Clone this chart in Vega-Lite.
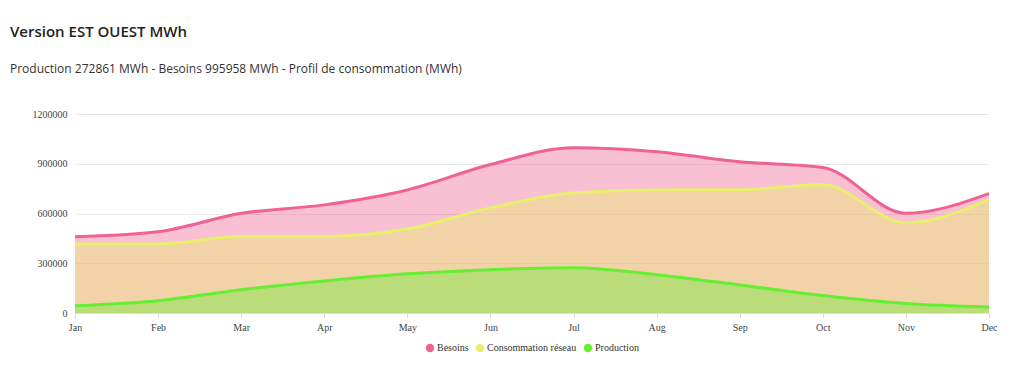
{
  "$schema": "https://vega.github.io/schema/vega-lite/v6.json",
  "autosize": {"type": "none"},
  "width": 914,
  "height": 199,
  "padding": {"left": 75, "top": 114, "right": 35, "bottom": 65},
  "background": "white",
  "title": {
    "text": "Version EST OUEST MWh",
    "subtitle": "Production 272861 MWh - Besoins 995958 MWh - Profil de consommation (MWh)",
    "anchor": "start",
    "frame": "group",
    "dx": -65,
    "offset": 34,
    "font": "Open Sans",
    "fontSize": 15,
    "fontWeight": 600,
    "color": "#222222",
    "subtitleFont": "Open Sans",
    "subtitleFontSize": 12,
    "subtitleColor": "#333333",
    "subtitlePadding": 24
  },
  "data": {
    "values": [
      {"month": "Jan", "serie": "Besoins", "value": 460000},
      {"month": "Feb", "serie": "Besoins", "value": 490000},
      {"month": "Mar", "serie": "Besoins", "value": 601000},
      {"month": "Apr", "serie": "Besoins", "value": 652000},
      {"month": "May", "serie": "Besoins", "value": 742000},
      {"month": "Jun", "serie": "Besoins", "value": 895000},
      {"month": "Jul", "serie": "Besoins", "value": 995958},
      {"month": "Aug", "serie": "Besoins", "value": 973000},
      {"month": "Sep", "serie": "Besoins", "value": 912000},
      {"month": "Oct", "serie": "Besoins", "value": 878000},
      {"month": "Nov", "serie": "Besoins", "value": 601000},
      {"month": "Dec", "serie": "Besoins", "value": 720000},
      {"month": "Jan", "serie": "Consommation réseau", "value": 416000},
      {"month": "Feb", "serie": "Consommation réseau", "value": 416000},
      {"month": "Mar", "serie": "Consommation réseau", "value": 461000},
      {"month": "Apr", "serie": "Consommation réseau", "value": 461000},
      {"month": "May", "serie": "Consommation réseau", "value": 506000},
      {"month": "Jun", "serie": "Consommation réseau", "value": 634000},
      {"month": "Jul", "serie": "Consommation réseau", "value": 723097},
      {"month": "Aug", "serie": "Consommation réseau", "value": 742000},
      {"month": "Sep", "serie": "Consommation réseau", "value": 743000},
      {"month": "Oct", "serie": "Consommation réseau", "value": 773000},
      {"month": "Nov", "serie": "Consommation réseau", "value": 544000},
      {"month": "Dec", "serie": "Consommation réseau", "value": 684000},
      {"month": "Jan", "serie": "Production", "value": 44000},
      {"month": "Feb", "serie": "Production", "value": 74000},
      {"month": "Mar", "serie": "Production", "value": 140000},
      {"month": "Apr", "serie": "Production", "value": 193000},
      {"month": "May", "serie": "Production", "value": 236000},
      {"month": "Jun", "serie": "Production", "value": 261000},
      {"month": "Jul", "serie": "Production", "value": 272861},
      {"month": "Aug", "serie": "Production", "value": 231000},
      {"month": "Sep", "serie": "Production", "value": 169000},
      {"month": "Oct", "serie": "Production", "value": 105000},
      {"month": "Nov", "serie": "Production", "value": 57000},
      {"month": "Dec", "serie": "Production", "value": 36000}
    ]
  },
  "encoding": {
    "x": {
      "field": "month",
      "type": "ordinal",
      "sort": ["Jan","Feb","Mar","Apr","May","Jun","Jul","Aug","Sep","Oct","Nov","Dec"],
      "scale": {"type": "point", "padding": 0},
      "axis": {
        "title": null,
        "labelAngle": 0,
        "labelFont": "Liberation Serif",
        "labelFontSize": 10,
        "labelColor": "#444444",
        "labelPadding": 4,
        "domainColor": "#dddddd",
        "tickColor": "#dddddd",
        "tickSize": 5,
        "grid": false
      }
    },
    "y": {
      "field": "value",
      "type": "quantitative",
      "scale": {"domain": [0, 1200000], "nice": false},
      "axis": {
        "title": null,
        "values": [0, 300000, 600000, 900000, 1200000],
        "format": "d",
        "labelFont": "Liberation Serif",
        "labelFontSize": 10,
        "labelColor": "#444444",
        "labelPadding": 8,
        "domain": false,
        "ticks": false,
        "grid": true,
        "gridColor": "#e8e8e8"
      }
    },
    "color": {
      "field": "serie",
      "type": "nominal",
      "scale": {
        "domain": ["Besoins", "Consommation réseau", "Production"],
        "range": ["#f06292", "#e8ef6a", "#66ee33"]
      },
      "legend": {
        "title": null,
        "orient": "bottom",
        "direction": "horizontal",
        "offset": 11,
        "symbolType": "circle",
        "symbolSize": 70,
        "symbolOpacity": 1,
        "symbolStrokeWidth": 0,
        "labelFont": "Liberation Serif",
        "labelFontSize": 10,
        "labelColor": "#333333",
        "columnPadding": 6,
        "symbolOffset": 0,
        "labelOffset": 2
      }
    }
  },
  "layer": [
    {
      "mark": {"type": "area", "interpolate": "monotone", "fillOpacity": 0.4},
      "encoding": {"y": {"field": "value", "type": "quantitative", "stack": null}}
    },
    {
      "mark": {"type": "line", "interpolate": "monotone", "strokeWidth": 3}
    }
  ],
  "config": {
    "view": {"stroke": null},
    "legend": {"layout": {"bottom": {"anchor": "middle"}}}
  }
}
